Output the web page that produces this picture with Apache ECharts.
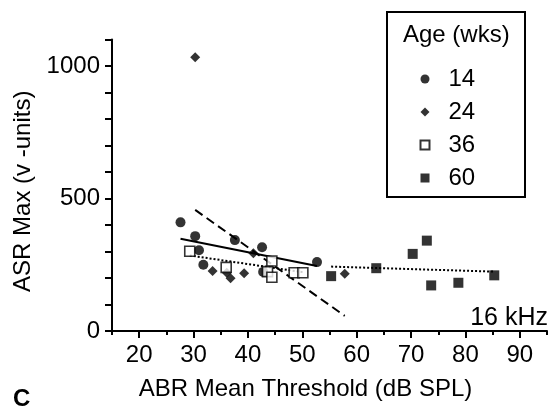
<!DOCTYPE html>
<html>
<head>
<meta charset="utf-8">
<script src="https://cdn.jsdelivr.net/npm/echarts@6/dist/echarts.min.js"></script>
<style>html,body{margin:0;padding:0;background:#fff}#c{width:549px;height:414px}</style>
</head>
<body>
<div id="c"></div>
<script>
// ---- data (ABR mean threshold dB SPL, ASR max v-units) ----
const age14 = [[27.6,410],[30.3,358],[31.0,305],[31.8,250],[37.6,343],[42.6,316],[42.8,223],[52.7,260]];
const age24 = [[30.3,1033],[33.5,226],[36.1,220],[36.8,199],[39.3,218],[41.0,293],[57.8,216]];
const age36 = [[29.3,301],[36.0,240],[44.4,264],[43.6,224],[44.4,203],[48.5,220],[50.1,220]];
const age60 = [[55.3,207],[63.6,237],[70.3,291],[72.9,341],[73.7,172],[78.7,182],[85.3,210]];
const fit14 = [[27.6,348],[52.7,245]];
const fit24 = [[30.3,457],[57.8,57]];
const fit36 = [[29.3,285],[50.1,222]];
const fit60 = [[55.3,243],[85.3,224]];
const legendNames = ['14','24','36','60'];
const xMajorTicks = [20,30,40,50,60,70,80,90];
const xMinorTicks = [15,25,35,45,55,65,75,85,95];
const yLabelValues = [0,500,1000];

const FONT = 'Liberation Sans';
const chart = echarts.init(document.getElementById('c'), null, {renderer:'canvas'});
const axisColor = '#000';
chart.setOption({
  animation: false,
  backgroundColor: '#fff',
  textStyle: {fontFamily: FONT, color: '#000'},
  grid: {left: 112, right: 2, top: 39.5, bottom: 83},
  xAxis: [{
    type: 'value', min: 15, max: 95,
    name: 'ABR Mean Threshold (dB SPL)', nameLocation: 'middle', nameGap: 46,
    nameTextStyle: {fontSize: 24, fontFamily: FONT, color: '#000', padding: [0, 48, 0, 0]},
    axisLine: {show: true, lineStyle: {color: axisColor, width: 2}},
    axisTick: {show: true, length: 7, lineStyle: {color: axisColor, width: 2}, customValues: xMajorTicks},
    axisLabel: {fontSize: 24, fontFamily: FONT, color: '#000', margin: 12, customValues: xMajorTicks},
    splitLine: {show: false}
  }, {
    type: 'value', min: 15, max: 95, position: 'bottom',
    axisLine: {show: false},
    axisTick: {show: true, length: 4, lineStyle: {color: axisColor, width: 2}, customValues: xMinorTicks},
    axisLabel: {show: false},
    splitLine: {show: false}
  }],
  yAxis: {
    type: 'value', min: 0, max: 1100, interval: 100,
    name: 'ASR Max (v -units)', nameLocation: 'middle', nameGap: 62, nameRotate: 90,
    nameTextStyle: {fontSize: 24, fontFamily: FONT, color: '#000', padding: [0, 12, 0, 0]},
    axisLine: {show: true, lineStyle: {color: axisColor, width: 2}},
    axisTick: {show: true, length: 7, lineStyle: {color: axisColor, width: 2}},
    axisLabel: {fontSize: 24, fontFamily: FONT, color: '#000', margin: 12,
      formatter: v => yLabelValues.indexOf(v) >= 0 ? String(v) : ''},
    splitLine: {show: false}
  },
  title: {
    text: 'Age (wks)', left: 398, top: 18,
    textStyle: {fontSize: 24, fontWeight: 'normal', fontFamily: FONT, color: '#000'}
  },
  legend: {
    data: legendNames, orient: 'vertical', left: 414.5, top: 62,
    itemWidth: 9, itemHeight: 9, itemGap: 9,
    textStyle: {fontSize: 24, fontFamily: FONT, color: '#000', lineHeight: 23, padding: [0,0,0,14]},
    selectedMode: false
  },
  graphic: [
    {type: 'rect', shape: {x: 387, y: 12, width: 138, height: 185},
      style: {fill: 'none', stroke: '#000', lineWidth: 2}, z: 10},
    {type: 'text', x: 548, y: 318,
      style: {text: '16 kHz', fontSize: 25, fontFamily: FONT, fill: '#000', align: 'right', verticalAlign: 'middle'}},
    {type: 'text', x: 13, y: 399,
      style: {text: 'C', fontSize: 24, fontWeight: 'bold', fontFamily: FONT, fill: '#000', align: 'left', verticalAlign: 'middle'}}
  ],
  series: [
    {name: '14', type: 'scatter', data: age14, symbol: 'circle', symbolSize: 10,
      itemStyle: {color: '#000'}, z: 5},
    {name: '24', type: 'scatter', data: age24, symbol: 'diamond', symbolSize: 10,
      itemStyle: {color: '#000'}, z: 5},
    {name: '36', type: 'scatter', data: age36, symbol: 'rect', symbolSize: 10,
      itemStyle: {color: '#fff', borderColor: '#000', borderWidth: 1.6}, z: 6},
    {name: '60', type: 'scatter', data: age60, symbol: 'rect', symbolSize: 10,
      itemStyle: {color: '#000'}, z: 5},
    {name: 'fit14', type: 'line', data: fit14, symbol: 'none',
      lineStyle: {color: '#000', width: 2, type: 'solid'}, z: 3},
    {name: 'fit24', type: 'line', data: fit24, symbol: 'none',
      lineStyle: {color: '#000', width: 2, type: [9, 5]}, z: 3},
    {name: 'fit36', type: 'line', data: fit36, symbol: 'none',
      lineStyle: {color: '#000', width: 2, type: [2, 2]}, z: 3},
    {name: 'fit60', type: 'line', data: fit60, symbol: 'none',
      lineStyle: {color: '#000', width: 2, type: [2, 2]}, z: 3}
  ]
});
</script>
</body>
</html>
